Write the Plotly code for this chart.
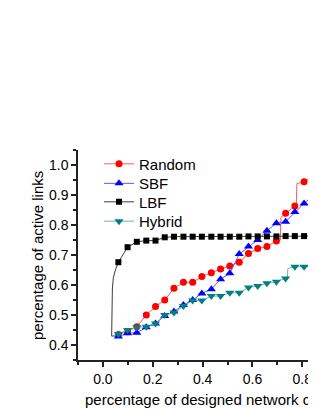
import plotly.graph_objects as go

# ---- data ----
x_marks = [0.062, 0.099, 0.136, 0.174, 0.211, 0.248, 0.285, 0.323, 0.360, 0.397, 0.435,
           0.472, 0.509, 0.547, 0.584, 0.621, 0.658, 0.696, 0.733, 0.770, 0.807, 0.845]
random_y = [0.435, 0.444, 0.461, 0.500, 0.528, 0.550, 0.589, 0.609, 0.609, 0.628, 0.641,
            0.653, 0.663, 0.676, 0.705, 0.722, 0.728, 0.747, 0.839, 0.863, 0.944, 0.964]
sbf_y = [0.428, 0.439, 0.441, 0.459, 0.472, 0.497, 0.512, 0.533, 0.550, 0.572, 0.586,
         0.619, 0.639, 0.703, 0.728, 0.750, 0.781, 0.806, 0.811, 0.843, 0.872, 0.900]
lbf_y = [0.676, 0.726, 0.744, 0.748, 0.748, 0.759, 0.761, 0.761, 0.761, 0.761, 0.761,
         0.761, 0.761, 0.761, 0.762, 0.762, 0.762, 0.762, 0.763, 0.763, 0.763, 0.763]
hybrid_y = [0.437, 0.450, 0.459, 0.461, 0.472, 0.500, 0.508, 0.530, 0.548, 0.548, 0.563,
            0.563, 0.574, 0.574, 0.592, 0.597, 0.606, 0.611, 0.622, 0.661, 0.661, 0.661]

# extra vertices of the connecting lines (start point and step corners)
start_x, start_y = [0.035], [0.430]
random_step_x = [0.712, 0.714, 0.776, 0.778]
random_step_y = [0.750, 0.825, 0.866, 0.938]
lbf_step_x = [0.036, 0.038, 0.042, 0.050]
lbf_step_y = [0.520, 0.590, 0.625, 0.650]
hybrid_step_x = [0.740, 0.742]
hybrid_step_y = [0.625, 0.655]

series_names = ["Random", "SBF", "LBF", "Hybrid"]
x_title = "percentage of designed network capacity"
y_title = "percentage of active links"

FONT = "Liberation Sans, Arial, sans-serif"


def merged(xs, ys, ex, ey):
    pts = sorted(zip(start_x + ex + xs, start_y + ey + ys))
    return [p[0] for p in pts], [p[1] for p in pts]


specs = [
    (random_y, random_step_x, random_step_y, "rgb(255,90,90)", "red", "circle", 7),
    (sbf_y, [], [], "rgb(90,90,255)", "blue", "triangle-up", 8),
    (lbf_y, lbf_step_x, lbf_step_y, "rgb(60,60,60)", "black", "square", 6),
    (hybrid_y, hybrid_step_x, hybrid_step_y, "rgb(110,180,180)", "rgb(0,128,128)", "triangle-down", 8),
]

legend_keys = ["legend", "legend2", "legend3", "legend4"]
legend_y = [0.933, 0.840, 0.752, 0.660]

fig = go.Figure()
for name, (ys, ex, ey, lc, mc, sym, ms), lk in zip(series_names, specs, legend_keys):
    lx, ly = merged(x_marks, ys, ex, ey)
    fig.add_trace(go.Scatter(x=lx, y=ly, mode="lines", line=dict(color=lc, width=1),
                             showlegend=False, hoverinfo="skip"))
    fig.add_trace(go.Scatter(x=x_marks, y=ys, mode="markers",
                             marker=dict(color=mc, symbol=sym, size=ms, line=dict(width=0)),
                             showlegend=False))
    # legend entry
    fig.add_trace(go.Scatter(x=[None], y=[None], mode="lines+markers", name=name, legend=lk,
                             line=dict(color=lc, width=1),
                             marker=dict(color=mc, symbol=sym, size=ms, line=dict(width=0))))

axis_common = dict(showline=True, linecolor="#222", linewidth=1.5, ticks="outside",
                   tickcolor="#222", tickwidth=1.5, ticklen=5, showgrid=False, zeroline=False,
                   tickfont=dict(family=FONT, size=14, color="black"), tickformat=".1f")

legend_style = dict(x=0.0854, xanchor="left", yanchor="middle", bgcolor="rgba(0,0,0,0)",
                    font=dict(family=FONT, size=15, color="black"))

layout_legends = {lk: dict(y=ly, **legend_style) for lk, ly in zip(legend_keys, legend_y)}

fig.update_layout(
    width=316, height=409,
    margin=dict(l=70, r=0, t=142, b=57),
    paper_bgcolor="white", plot_bgcolor="white",
    font=dict(family=FONT, color="black"),
    xaxis=dict(range=[-0.1, 0.887], dtick=0.2, tick0=0,
               minor=dict(dtick=0.1, ticklen=3, ticks="outside", tickcolor="#222", tickwidth=1.5, showgrid=False),
               **axis_common),
    yaxis=dict(range=[0.35, 1.05], dtick=0.1, tick0=0,
               minor=dict(dtick=0.05, ticklen=3, ticks="outside", tickcolor="#222", tickwidth=1.5, showgrid=False),
               **axis_common),
    annotations=[
        dict(text=y_title, xref="paper", yref="paper", x=-0.1667, y=0.5,
             textangle=-90, showarrow=False, xanchor="center", yanchor="middle",
             font=dict(family=FONT, size=15, color="black")),
        dict(text=x_title, xref="paper", yref="paper",
             x=0.0203, y=-0.186, showarrow=False, xanchor="left", yanchor="middle",
             font=dict(family=FONT, size=15, color="black")),
    ],
    **layout_legends,
)

fig.write_html("out.html")
